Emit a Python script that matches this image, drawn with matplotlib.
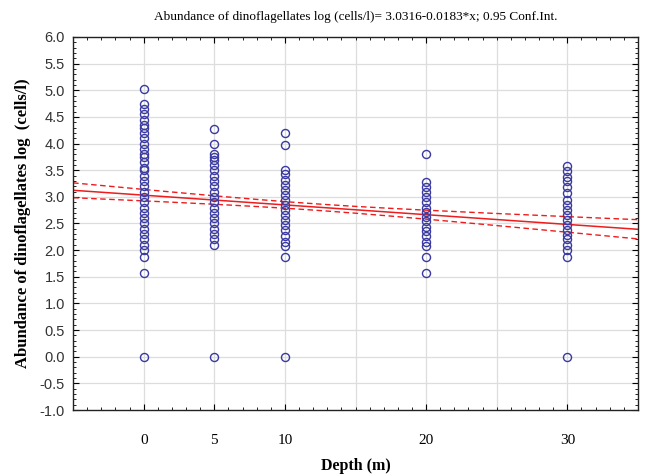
import numpy as np
import matplotlib
matplotlib.use("Agg")
import matplotlib.pyplot as plt
from matplotlib.ticker import MultipleLocator, FixedLocator, FixedFormatter

# ---- data ----
depth_0 = [5.02, 4.75, 4.65, 4.55, 4.45, 4.35, 4.3, 4.2, 4.1, 4.0, 3.9, 3.8, 3.75, 3.65,
           3.55, 3.5, 3.4, 3.3, 3.2, 3.1, 3.0, 2.9, 2.8, 2.7, 2.6, 2.5, 2.4, 2.3, 2.2,
           2.1, 2.0, 1.88, 1.58, 0.0]
depth_5 = [4.27, 4.0, 3.8, 3.75, 3.7, 3.6, 3.5, 3.4, 3.3, 3.2, 3.1, 3.0, 2.9, 2.8, 2.7,
           2.6, 2.5, 2.4, 2.3, 2.2, 2.1, 0.0]
depth_10 = [4.2, 3.98, 3.51, 3.42, 3.32, 3.23, 3.13, 3.04, 2.95, 2.85, 2.76, 2.66, 2.57,
            2.48, 2.38, 2.26, 2.16, 2.07, 1.88, 0.0]
depth_20 = [3.8, 3.27, 3.18, 3.1, 3.0, 2.9, 2.8, 2.72, 2.63, 2.54, 2.44, 2.35, 2.26,
            2.16, 2.07, 1.88, 1.58]
depth_30 = [3.57, 3.48, 3.38, 3.29, 3.18, 3.07, 2.95, 2.85, 2.76, 2.66, 2.57, 2.48,
            2.38, 2.29, 2.2, 2.1, 2.01, 1.88, 0.0]
depths = [0, 5, 10, 20, 30]
columns = [depth_0, depth_5, depth_10, depth_20, depth_30]

intercept = 3.0316
slope = -0.0183
ci_center = 12.0
ci_h0 = 0.06
ci_k = 0.0074

x_tick_labels = ["0", "5", "10", "20", "30"]
title = "Abundance of dinoflagellates log (cells/l)= 3.0316-0.0183*x; 0.95 Conf.Int."
xlabel = "Depth (m)"
ylabel = "Abundance of dinoflagellates log  (cells/l)"

# ---- plot ----
fig = plt.figure(figsize=(6.47, 4.74), dpi=100)
ax = fig.add_axes([0.113, 0.135, 0.873, 0.787])
serif = ["Liberation Serif", "DejaVu Serif"]
sans = ["Liberation Sans", "DejaVu Sans"]

ax.set_xlim(-5, 35)
ax.set_ylim(-1.0, 6.0)

ax.xaxis.set_major_locator(FixedLocator(depths))
ax.xaxis.set_major_formatter(FixedFormatter(x_tick_labels))
ax.xaxis.set_minor_locator(MultipleLocator(1))
ax.yaxis.set_minor_locator(MultipleLocator(0.1))

for gx in np.arange(0, 35, 5):
    ax.axvline(gx, color="#dddddd", lw=0.9, zorder=0)
for gy in np.arange(-0.5, 6.0, 0.5):
    ax.axhline(gy, color="#dddddd", lw=0.9, zorder=0)

xs = np.linspace(-5, 35, 200)
yfit = intercept + slope * xs
half = np.sqrt(ci_h0 ** 2 + (ci_k * (xs - ci_center)) ** 2)
ax.plot(xs, yfit, color="#ee1c1c", lw=1.1, zorder=2)
ax.plot(xs, yfit + half, color="#ee1c1c", lw=1.0, ls=(0, (4, 2.5)), zorder=2)
ax.plot(xs, yfit - half, color="#ee1c1c", lw=1.0, ls=(0, (4, 2.5)), zorder=2)

for d, col in zip(depths, columns):
    ax.plot([d] * len(col), col, ls="none", marker="o", ms=5.8, mfc="none",
            mec="#3a3aa0", mew=1.0, zorder=3)

ax.tick_params(axis="both", which="both", direction="in", top=True, right=True)
ax.tick_params(axis="both", which="major", length=4)
ax.tick_params(axis="both", which="minor", length=2)
yt = np.arange(-1.0, 6.01, 0.5)
ax.set_yticks(yt)
ax.set_yticklabels([f"{v:.1f}" for v in yt])
for lab in ax.get_xticklabels():
    lab.set_family(serif)
    lab.set_fontsize(11)
for lab in ax.get_yticklabels():
    lab.set_family(sans)
    lab.set_fontsize(10.5)
    lab.set_color("#333333")
ax.tick_params(axis="x", pad=17)
ax.tick_params(axis="y", pad=6)

for s in ax.spines.values():
    s.set_color("#222222")
    s.set_linewidth(1.0)

ax.set_title(title, family=serif, fontsize=9.5, pad=12)
ax.set_xlabel(xlabel, family=serif, fontsize=11.5, fontweight="bold", labelpad=8)
ax.set_ylabel(ylabel, family=serif, fontsize=12, fontweight="bold", labelpad=6)

fig.savefig("out.png", dpi=100)
